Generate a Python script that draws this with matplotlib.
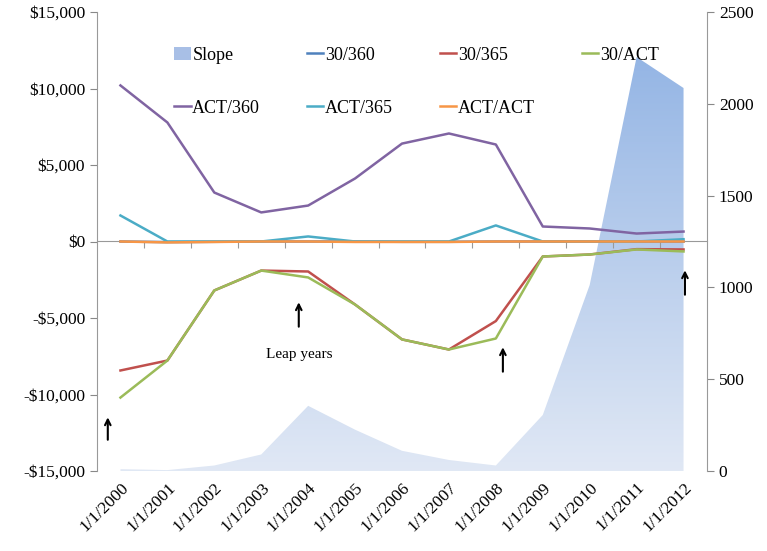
import numpy as np
import matplotlib.pyplot as plt
from matplotlib.patches import Patch
from matplotlib.ticker import FuncFormatter, MultipleLocator

plt.rcParams["font.family"] = ["Liberation Serif", "DejaVu Serif"]

years = ["1/1/2000", "1/1/2001", "1/1/2002", "1/1/2003", "1/1/2004", "1/1/2005", "1/1/2006",
         "1/1/2007", "1/1/2008", "1/1/2009", "1/1/2010", "1/1/2011", "1/1/2012"]

slope = [10, 5, 30, 90, 355, 225, 110, 60, 30, 305, 1013, 2255, 2086]
d30_360 = [0, -40, -20, 0, 0, 0, -20, -20, 0, 0, 0, 0, 0]
d30_365 = [-8430, -7780, -3200, -1900, -1960, -4120, -6400, -7060, -5200, -980, -850, -500, -520]
d30_act = [-10200, -7780, -3200, -1900, -2350, -4120, -6400, -7060, -6340, -980, -850, -520, -650]
act_360 = [10200, 7780, 3200, 1900, 2350, 4120, 6400, 7060, 6340, 980, 850, 520, 650]
act_365 = [1700, 0, 0, 0, 330, 0, 0, 0, 1050, 0, 0, 0, 150]
act_act = [0, -60, -30, 0, 0, -30, -30, -30, 0, 0, 0, 0, 0]

x = np.arange(len(years))

fig = plt.figure(figsize=(7.67, 5.51), dpi=100)
ax = fig.add_axes([97 / 767, 1 - 471 / 551, 610 / 767, 459 / 551])
ax2 = ax.twinx()

# gradient area on the secondary axis
ax2.set_ylim(0, 2500)
ax2.set_xlim(-0.5, 12.5)
poly = ax2.fill_between(x, 0, slope, color="none", lw=0)
grad = np.linspace(0, 1, 256).reshape(-1, 1)
c0 = np.array([0.88, 0.91, 0.96])
c1 = np.array([0.55, 0.69, 0.89])
img = c0 + grad * (c1 - c0)
im = ax2.imshow(img.reshape(256, 1, 3), extent=[-0.5, 12.5, 0, 2500], origin="lower",
                aspect="auto", zorder=1)
im.set_clip_path(poly.get_paths()[0], transform=ax2.transData)

ax.set_zorder(ax2.get_zorder() + 1)
ax.patch.set_visible(False)

colors = {"30/360": "#4F81BD", "30/365": "#C0504D", "30/ACT": "#9BBB59",
          "ACT/360": "#8064A2", "ACT/365": "#4BACC6", "ACT/ACT": "#F79646"}
series = {"30/360": d30_360, "30/365": d30_365, "30/ACT": d30_act,
          "ACT/360": act_360, "ACT/365": act_365, "ACT/ACT": act_act}
lines = {}
for name, vals in series.items():
    lines[name], = ax.plot(x, vals, color=colors[name], lw=1.8, label=name)

ax.set_xlim(-0.5, 12.5)
ax.set_ylim(-15000, 15000)
ax.yaxis.set_major_locator(MultipleLocator(5000))
ax.yaxis.set_major_formatter(FuncFormatter(
    lambda v, p: ("-$" if v < 0 else "$") + f"{abs(int(v)):,}"))
ax.set_xticks(x)
ax.set_xticklabels(years, rotation=45, ha="right", rotation_mode="anchor")
ax.tick_params(axis="x", length=0, labelsize=12.5, pad=6)
ax.tick_params(axis="y", colors="#888888", labelcolor="black", labelsize=12.5, length=5)
ax2.tick_params(axis="y", colors="#888888", labelcolor="black", labelsize=12.5, length=5)
ax2.yaxis.set_major_locator(MultipleLocator(500))

for a in (ax, ax2):
    a.spines["top"].set_visible(False)
    a.spines["bottom"].set_visible(False)
    a.spines["left"].set_color("#999999")
    a.spines["right"].set_color("#999999")
ax.spines["right"].set_visible(False)
ax2.spines["left"].set_visible(False)

# category axis crossing at zero, tick marks below the line
sec = ax.secondary_xaxis(0.5)
sec.set_xticks(np.arange(0.5, 12, 1))
sec.set_xticklabels([])
sec.tick_params(length=5, colors="#999999", direction="in")
for sp in sec.spines.values():
    sp.set_color("#999999")

# leap year arrows
for ax_x, y0, y1 in [(-0.27, -13140, -11310), (3.8, -5750, -3790),
                     (8.15, -8690, -6730), (12.03, -3660, -1700)]:
    ax.annotate("", xy=(ax_x, y1), xytext=(ax_x, y0),
                arrowprops=dict(arrowstyle="->", color="black", lw=1.5))
ax.text(3.8, -7400, "Leap years", fontsize=11, ha="center", va="center")

handles = [Patch(facecolor="#a8bfe6", label="Slope"), lines["ACT/360"], lines["30/360"],
           lines["ACT/365"], lines["30/365"], lines["ACT/ACT"], lines["30/ACT"]]
ax.legend(handles=handles, ncol=4, frameon=False, fontsize=13, loc="upper left",
          bbox_to_anchor=(0.1, 0.96), handlelength=0.9, handletextpad=0.1,
          columnspacing=2.6, labelspacing=2.0)

fig.savefig("out.png", dpi=100)
